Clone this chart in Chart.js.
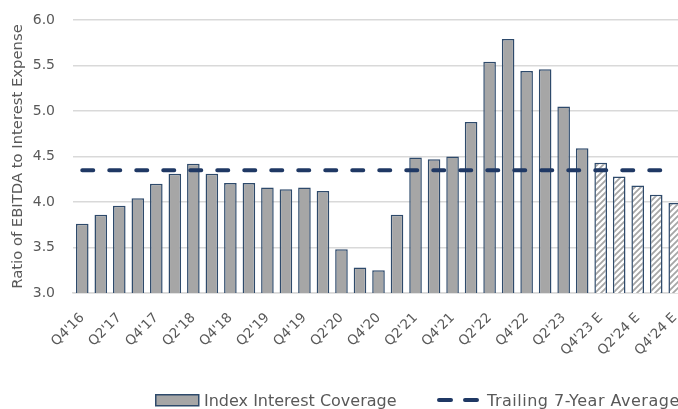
<!DOCTYPE html>
<html>
<head>
<meta charset="utf-8">
<script src="https://cdn.jsdelivr.net/npm/chart.js@4/dist/chart.umd.min.js"></script>
<style>
  html, body { margin: 0; padding: 0; background: #fff; overflow: hidden; }
  body { width: 678px; height: 409px; position: relative; }
  #wrap { position: absolute; left: 0; top: 0; width: 684px; height: 409px; }
  #legend { position: absolute; left: 0; top: 390px; width: 720px; height: 30px;
    font-family: "DejaVu Sans", sans-serif; font-size: 16px; color: #595959; }
  .item { position: absolute; top: 0; white-space: nowrap; line-height: 22px; }
  .swatch { position: absolute; }
</style>
</head>
<body>
<div id="wrap"><canvas id="chart"></canvas></div>
<div id="legend">
  <div class="item" style="left:155px">
    <svg class="swatch" width="46" height="14" style="left:0;top:4px"><rect x="0.75" y="0.75" width="43" height="11" fill="#a6a6a6" stroke="#2e4a6b" stroke-width="1.5"/></svg>
    <span style="position:absolute;left:49px;top:0">Index Interest Coverage</span>
  </div>
  <div class="item" style="left:437px">
    <svg class="swatch" width="46" height="14" style="left:0;top:4px"><line x1="2" y1="6" x2="44" y2="6" stroke="#1f3864" stroke-width="4" stroke-linecap="round" stroke-dasharray="12 14"/></svg>
    <span style="position:absolute;left:50px;top:0;letter-spacing:0.5px">Trailing 7-Year Average</span>
  </div>
</div>
<script>
// quarters, Q4'16 through the Q4'24 estimate
const quarters = [
  "Q4'16", "Q1'17", "Q2'17", "Q3'17", "Q4'17", "Q1'18", "Q2'18", "Q3'18",
  "Q4'18", "Q1'19", "Q2'19", "Q3'19", "Q4'19", "Q1'20", "Q2'20", "Q3'20",
  "Q4'20", "Q1'21", "Q2'21", "Q3'21", "Q4'21", "Q1'22", "Q2'22", "Q3'22",
  "Q4'22", "Q1'23", "Q2'23", "Q3'23", "Q4'23 E", "Q1'24 E", "Q2'24 E",
  "Q3'24 E", "Q4'24 E"
];

// EBITDA / interest expense
const coverage = [
  3.76, 3.86, 3.96, 4.04, 4.20, 4.31, 4.42, 4.31,
  4.21, 4.21, 4.16, 4.14, 4.16, 4.12, 3.48, 3.28,
  3.25, 3.86, 4.49, 4.47, 4.50, 4.88, 5.54, 5.79,
  5.44, 5.46, 5.05, 4.59, 4.43, 4.28, 4.18, 4.08, 3.99
];

const trailingAvg = 4.35;
const firstEstimate = 28; // index of Q4'23 E

const yTicks = [3.0, 3.5, 4.0, 4.5, 5.0, 5.5, 6.0];

// diagonal hatch for estimate bars
function hatch() {
  const n = 6;
  const c = document.createElement("canvas");
  c.width = n;
  c.height = n;
  const g = c.getContext("2d");
  g.fillStyle = "#ffffff";
  g.fillRect(0, 0, n, n);
  g.strokeStyle = "#a6a6a6";
  g.lineWidth = 1.8;
  g.beginPath();
  g.moveTo(-1, n + 1); g.lineTo(n + 1, -1);
  g.moveTo(-1, 1); g.lineTo(1, -1);
  g.moveTo(n - 1, n + 1); g.lineTo(n + 1, n - 1);
  g.stroke();
  return g.createPattern(c, "repeat");
}

const stripe = hatch();
const barFill = coverage.map((v, i) => (i >= firstEstimate ? stripe : "#a6a6a6"));

const FONT = "'DejaVu Sans', sans-serif";
const GREY = "#595959";

new Chart(document.getElementById("chart"), {
  data: {
    labels: quarters,
    datasets: [
      {
        type: "line",
        label: "Trailing 7-Year Average",
        data: quarters.map(() => trailingAvg),
        borderColor: "#1f3864",
        borderWidth: 4,
        borderDash: [11, 16],
        borderCapStyle: "round",
        pointRadius: 0,
        order: 0,
      },
      {
        type: "bar",
        label: "Index Interest Coverage",
        data: coverage,
        backgroundColor: barFill,
        borderColor: "#2e4a6b",
        borderWidth: 1.5,
        categoryPercentage: 0.68,
        barPercentage: 1,
        order: 1,
      },
    ],
  },
  options: {
    responsive: true,
    maintainAspectRatio: false,
    animation: false,
    layout: { padding: { top: 20, left: 0, right: 0, bottom: 0 } },
    plugins: { legend: { display: false }, tooltip: { enabled: false } },
    scales: {
      x: {
        grid: { display: false, drawTicks: false },
        border: { color: "#d9d9d9", width: 1.5 },
        ticks: {
          autoSkip: false,
          maxRotation: 45,
          minRotation: 45,
          padding: 17,
          color: GREY,
          font: { family: FONT, size: 13.5 },
          callback: (v, i) => (i % 2 === 0 ? quarters[i] : ""),
        },
        afterFit: (s) => {
          s.height = 116;
          s.paddingLeft = 0;
          s.paddingRight = 0;
        },
      },
      y: {
        min: 3,
        max: 6,
        afterBuildTicks: (s) => { s.ticks = yTicks.map((v) => ({ value: v })); },
        grid: { color: "#d9d9d9", lineWidth: 1.5, drawTicks: false },
        border: { display: false },
        ticks: {
          padding: 18,
          color: GREY,
          font: { family: FONT, size: 14 },
          callback: (v) => Number(v).toFixed(1),
        },
        title: {
          display: true,
          text: "Ratio of EBITDA to Interest Expense",
          color: GREY,
          font: { family: FONT, size: 14.8 },
          padding: { top: 9, bottom: 0 },
        },
        afterFit: (s) => {
          s.width = 73;
          s.paddingTop = 0;
          s.paddingBottom = 0;
        },
      },
    },
  },
});
</script>
</body>
</html>
